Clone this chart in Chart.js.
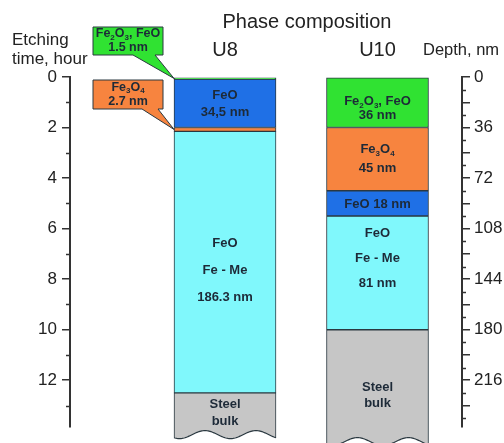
<!DOCTYPE html>
<html lang="en">
<head>
    <meta charset="UTF-8">
    <title>Phase composition</title>
    <script src="https://cdn.jsdelivr.net/npm/chart.js"></script>
    <style>
        html, body { margin: 0; padding: 0; background: #fff; }
        #wrap { width: 504px; height: 443px; position: relative; }
    </style>
</head>
<body>
    <div id="wrap"><canvas id="phaseChart"></canvas></div>

    <script>
        // layers from the surface down, thickness in nm
        const columns = ['U8', 'U10'];
        const u8Phases = ['Fe2O3, FeO', 'FeO', 'Fe3O4', 'FeO Fe-Me', 'Steel bulk'];
        const u8Thickness = [1.5, 34.5, 2.7, 186.3];
        const u10Phases = ['Fe2O3, FeO', 'Fe3O4', 'FeO', 'FeO Fe-Me', 'Steel bulk'];
        const u10Thickness = [36, 45, 18, 81];
        const bulkEnd = [259, 264];   // where the drawn steel bulk is cut off

        const u8Text = [[], ['FeO', '34,5 nm'], [], ['FeO', 'Fe - Me', '186.3 nm'], ['Steel', 'bulk']];
        const u10Text = [['Fe_2O_3, FeO', '36 nm'], ['Fe_3O_4', '45 nm'], ['FeO 18 nm'], ['FeO', 'Fe - Me', '81 nm'], ['Steel', 'bulk']];
        const calloutLayers = [0, 2];
        const calloutText = [['Fe_2O_3, FeO', '1.5 nm'], ['Fe_3O_4', '2.7 nm']];

        const hourLabels = [0, 2, 4, 6, 8, 10, 12];
        const depthLabels = [0, 36, 72, 108, 144, 180, 216];
        const nmPerHour = 18;
        const hourMax = 13.85;

        const phaseColors = {
            'Fe2O3, FeO': '#30e232',
            'Fe3O4': '#f7843f',
            'FeO': '#1f70e6',
            'FeO Fe-Me': '#80f8fc',
            'Steel bulk': '#c6c6c6'
        };
        const family = 'Arial, "Liberation Sans", sans-serif';
        const ink = '#1d2a38';
        const edge = '#2a3840';

        // text placement inside each layer: line height and shift from layer middle
        const u8TextStyle = [null, {lh: 17, dy: 1}, null, {lh: 27, dy: 8}, {lh: 17, dy: -4}];
        const u10TextStyle = [{lh: 14, dy: 6}, {lh: 19, dy: 0}, {lh: 17, dy: 1}, {lh: 25, dy: -14}, {lh: 16, dy: 7}];
        const calloutBoxes = [
            {x0: 93, y0: 27, x1: 163, y1: 55, w0: 133, w1: 155},
            {x0: 93, y0: 80, x1: 163, y1: 109, w0: 142, w1: 158}
        ];

        function spans(thick, end) {
            const out = [];
            let s = 0;
            thick.forEach(t => { out.push([s, s + t]); s += t; });
            out.push([s, end]);
            return out;
        }

        const u8Spans = spans(u8Thickness, bulkEnd[0]);
        const u10Spans = spans(u10Thickness, bulkEnd[1]);

        const datasets = u8Spans.map((sp, i) => ({
            label: u8Phases[i] + ' / ' + u10Phases[i],
            data: [{x: 1, y: sp}, {x: 2, y: u10Spans[i]}],
            backgroundColor: [phaseColors[u8Phases[i]], phaseColors[u10Phases[i]]],
            borderColor: edge,
            borderWidth: 1,
            borderSkipped: false,
            barThickness: 102,
            yAxisID: 'y1',
            clip: false
        }));

        // rich text: "_2" draws a subscript 2
        function drawRich(ctx, str, cx, cy, size) {
            const runs = [];
            for (let i = 0; i < str.length; i++) {
                if (str[i] === '_') { runs.push({t: str[i + 1], sub: true}); i++; }
                else if (runs.length && !runs[runs.length - 1].sub) runs[runs.length - 1].t += str[i];
                else runs.push({t: str[i], sub: false});
            }
            const big = 'bold ' + size + 'px ' + family;
            const small = 'bold ' + Math.round(size * 0.62) + 'px ' + family;
            let w = 0;
            runs.forEach(r => { ctx.font = r.sub ? small : big; r.w = ctx.measureText(r.t).width; w += r.w; });
            let x = cx - w / 2;
            ctx.textAlign = 'left';
            ctx.textBaseline = 'middle';
            runs.forEach(r => {
                ctx.font = r.sub ? small : big;
                ctx.fillText(r.t, x, r.sub ? cy + size * 0.3 : cy);
                x += r.w;
            });
        }

        function drawWave(ctx, el) {
            const left = el.x - el.width / 2, right = el.x + el.width / 2;
            const bottom = Math.max(el.y, el.base);
            const wy = x => bottom - 6 + 4 * Math.sin((x - left) / el.width * Math.PI * 4 + 0.9);
            ctx.save();
            ctx.beginPath();
            ctx.moveTo(left - 2, bottom + 6);
            for (let x = left - 2; x <= right + 2; x++) {
                ctx.lineTo(x, wy(Math.max(left, Math.min(right, x))));
            }
            ctx.lineTo(right + 2, bottom + 6);
            ctx.closePath();
            ctx.fillStyle = '#fff';
            ctx.fill();
            ctx.beginPath();
            for (let x = left; x <= right; x++) {
                if (x === left) ctx.moveTo(x, wy(x)); else ctx.lineTo(x, wy(x));
            }
            ctx.strokeStyle = edge;
            ctx.lineWidth = 1.2;
            ctx.stroke();
            ctx.restore();
        }

        const decorations = {
            id: 'decorations',
            afterDatasetsDraw(chart) {
                const ctx = chart.ctx;
                const metas = chart.data.datasets.map((d, i) => chart.getDatasetMeta(i));
                const yS = chart.scales.y, y1S = chart.scales.y1;

                // minor ticks
                ctx.save();
                ctx.strokeStyle = '#333';
                ctx.lineWidth = 1.5;
                for (let h = 1; h < hourMax; h += 2) {
                    const py = Math.round(yS.getPixelForValue(h)) + 0.5;
                    ctx.beginPath(); ctx.moveTo(yS.right - 4, py); ctx.lineTo(yS.right, py); ctx.stroke();
                }
                for (let d = 9; d < hourMax * nmPerHour; d += 18) {
                    const py = Math.round(y1S.getPixelForValue(d)) + 0.5;
                    ctx.beginPath(); ctx.moveTo(y1S.left, py); ctx.lineTo(y1S.left + 4, py); ctx.stroke();
                }
                ctx.restore();

                // wavy cut of the steel bulk
                metas[metas.length - 1].data.forEach(el => drawWave(ctx, el));

                // layer labels
                ctx.save();
                ctx.fillStyle = ink;
                [[u8Text, u8TextStyle], [u10Text, u10TextStyle]].forEach(([texts, styles], col) => {
                    texts.forEach((lines, layer) => {
                        if (!lines.length) return;
                        const el = metas[layer].data[col];
                        const mid = (el.y + el.base) / 2 + styles[layer].dy;
                        const lh = styles[layer].lh;
                        lines.forEach((ln, k) => {
                            drawRich(ctx, ln, el.x, mid + (k - (lines.length - 1) / 2) * lh, 13);
                        });
                    });
                });
                ctx.restore();

                // callouts for the thin U8 layers
                calloutLayers.forEach((layer, k) => {
                    const el = metas[layer].data[0];
                    const tx = el.x - el.width / 2, ty = (el.y + el.base) / 2;
                    const b = calloutBoxes[k];
                    ctx.save();
                    ctx.beginPath();
                    ctx.moveTo(b.x0, b.y0);
                    ctx.lineTo(b.x1, b.y0);
                    ctx.lineTo(b.x1, b.y1);
                    ctx.lineTo(b.w1, b.y1);
                    ctx.lineTo(tx, ty);
                    ctx.lineTo(b.w0, b.y1);
                    ctx.lineTo(b.x0, b.y1);
                    ctx.closePath();
                    ctx.fillStyle = phaseColors[u8Phases[layer]];
                    ctx.fill();
                    ctx.strokeStyle = edge;
                    ctx.lineWidth = 1;
                    ctx.stroke();
                    ctx.fillStyle = ink;
                    const cx = (b.x0 + b.x1) / 2, cy = (b.y0 + b.y1) / 2;
                    calloutText[k].forEach((ln, i) => drawRich(ctx, ln, cx, cy + (i - 0.5) * 14, 12.5));
                    ctx.restore();
                });

                // titles
                ctx.save();
                ctx.fillStyle = '#222';
                ctx.textBaseline = 'middle';
                ctx.textAlign = 'center';
                ctx.font = '20px ' + family;
                ctx.fillText('Phase composition', 307, 22);
                metas[0].data.forEach((el, i) => ctx.fillText(columns[i], el.x, 50));
                ctx.textAlign = 'left';
                ctx.font = '17px ' + family;
                ctx.fillText('Etching', 12, 40);
                ctx.fillText('time, hour', 12, 59);
                ctx.font = '16.5px ' + family;
                ctx.fillText('Depth, nm', 423, 50);
                ctx.restore();
            }
        };

        const axisStyle = {
            grid: { drawOnChartArea: false, tickLength: 8, color: '#333', lineWidth: 1.5 },
            border: { display: true, color: '#333', width: 2 }
        };

        new Chart(document.getElementById('phaseChart'), {
            type: 'bar',
            data: { datasets: datasets },
            options: {
                responsive: true,
                maintainAspectRatio: false,
                animation: false,
                layout: { padding: { top: 77, bottom: 16, left: 0, right: 0 } },
                plugins: { legend: { display: false }, tooltip: { enabled: false } },
                scales: {
                    x: { type: 'linear', display: false, stacked: true, offset: false, min: -0.0164, max: 2.5541 },
                    y: {
                        position: 'left',
                        reverse: true,
                        min: 0,
                        max: hourMax,
                        afterBuildTicks: s => { s.ticks = hourLabels.map(v => ({value: v})); },
                        afterFit: s => { s.width = 70; },
                        ticks: { color: '#222', font: { size: 17, family: family }, padding: 5, autoSkip: false },
                        ...axisStyle
                    },
                    y1: {
                        position: 'right',
                        reverse: true,
                        min: 0,
                        max: hourMax * nmPerHour,
                        afterBuildTicks: s => {
                            const t = [];
                            depthLabels.forEach(v => { t.push({value: v}); if (v + 18 <= s.max) t.push({value: v + 18}); });
                            s.ticks = t;
                        },
                        afterFit: s => { s.width = 42; },
                        ticks: {
                            color: '#222',
                            font: { size: 17, family: family },
                            padding: 4,
                            autoSkip: false,
                            callback: v => depthLabels.includes(v) ? v : ''
                        },
                        ...axisStyle
                    }
                }
            },
            plugins: [decorations]
        });
    </script>
</body>
</html>
